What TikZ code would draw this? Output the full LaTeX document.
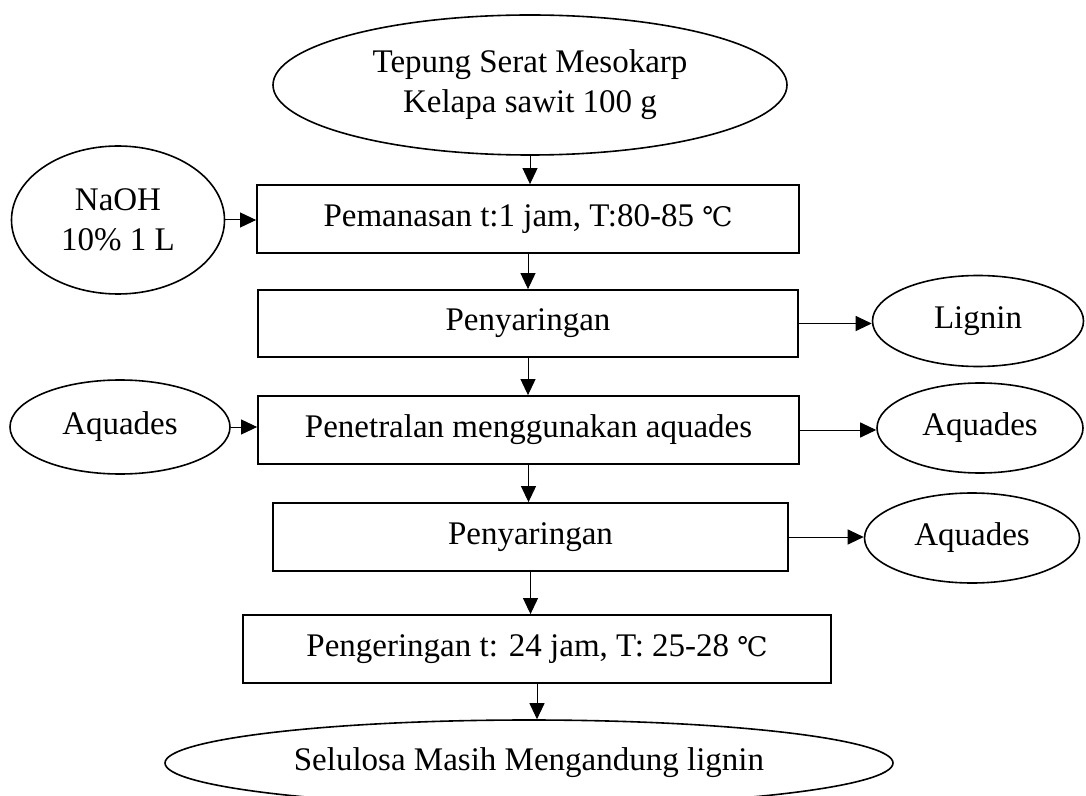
\documentclass[tikz,border=0pt]{standalone}
\usepackage{fontspec}
\setmainfont{Liberation Serif}
\newfontfamily\symfont{DejaVu Serif}
\newcommand{\celsius}{{\symfont\fontsize{13.5}{16}\selectfont ℃}}
\usetikzlibrary{arrows.meta,shapes.geometric}

\begin{document}
\begin{tikzpicture}[x=0.5pt,y=-0.5pt,>={Triangle[length=8pt,width=7.5pt]},
  font=\fontsize{16.5}{20}\selectfont,
  proc/.style={draw,line width=0.9pt,rectangle,inner sep=0pt,minimum height=34pt},
  oval/.style={draw,line width=0.8pt,ellipse,inner sep=0pt,align=center},
  arr/.style={->,line width=0.5pt}]
  \useasboundingbox (0,0) rectangle (1086,796);
  % Bahan dan Proses
  \node[oval,minimum width=257pt,minimum height=70pt] (tepung) at (530,85) {Tepung Serat Mesokarp\\Kelapa sawit 100 g};
  \node[oval,minimum width=106.5pt,minimum height=74pt] (naoh) at (118,220) {NaOH\\10\% 1 L};
  \node[proc,minimum width=271pt] (panas) at (528,219) {Pemanasan t:1 jam, T:80-85 \celsius};
  \node[proc,minimum width=270pt,minimum height=33.5pt] (saring1) at (528,323.5) {Penyaringan};
  \node[oval,minimum width=105.5pt,minimum height=45.5pt] (lignin) at (978,321) {Lignin};
  \node[oval,minimum width=110pt,minimum height=47pt] (aqkiri) at (120,427) {Aquades};
  \node[proc,minimum width=270.5pt] (netral) at (528.5,430) {Penetralan menggunakan aquades};
  \node[oval,minimum width=103pt,minimum height=45pt] (aqkanan1) at (980,428) {Aquades};
  \node[proc,minimum width=257.5pt] (saring2) at (530.5,537) {Penyaringan};
  \node[oval,minimum width=107.5pt,minimum height=45pt] (aqkanan2) at (972,538) {Aquades};
  \node[proc,minimum width=294pt] (kering) at (537,649) {Pengeringan t: 24 jam, T: 25-28 \celsius};
  \node[oval,minimum width=364pt,minimum height=43pt] (selulosa) at (529,763) {Selulosa Masih Mengandung lignin};
  % Alur utama
  \draw[arr] (tepung.south) -- (tepung.south |- panas.north);
  \draw[arr] (panas.south) -- (panas.south |- saring1.north);
  \draw[arr] (saring1.south) -- (saring1.south |- netral.north);
  \draw[arr] (netral.south) -- (netral.south |- saring2.north);
  \draw[arr] (saring2.south) -- (saring2.south |- kering.north);
  \draw[arr] (kering.south) -- (selulosa.north -| kering.south);
  % Masukan dan keluaran samping
  \draw[arr] (naoh.east) -- (naoh.east -| panas.west);
  \draw[arr] (aqkiri.east) -- (aqkiri.east -| netral.west);
  \draw[arr] (saring1.east) -- (saring1.east -| lignin.west);
  \draw[arr] (netral.east) -- (netral.east -| aqkanan1.west);
  \draw[arr] (saring2.east) -- (saring2.east -| aqkanan2.west);
\end{tikzpicture}
\end{document}
